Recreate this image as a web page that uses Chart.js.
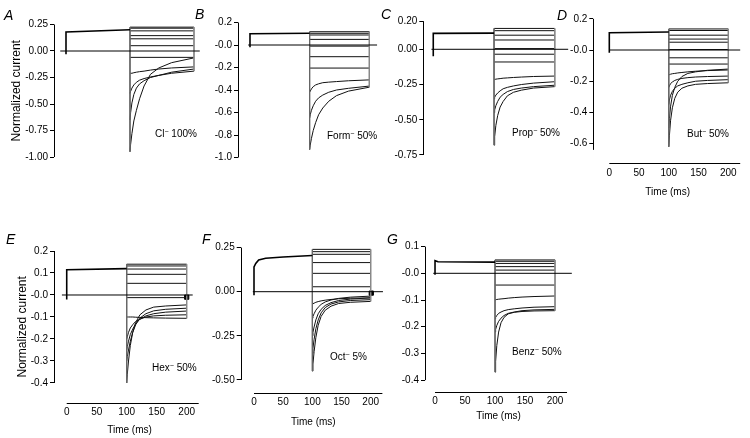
<!DOCTYPE html>
<html>
<head>
<meta charset="utf-8">
<script src="https://cdn.jsdelivr.net/npm/chart.js@4.4.0/dist/chart.umd.min.js"></script>
<style>
  body { margin: 0; background: #fff; }
  #wrap { position: relative; width: 750px; height: 438px; overflow: hidden; font-family: "Liberation Sans", Arial, sans-serif; color: #000; }
  #wrap canvas { position: absolute; left: 0; top: 0; }
  .tag { position: absolute; font-size: 14px; font-style: italic; line-height: 1; }
  .note { position: absolute; font-size: 10px; line-height: 1; white-space: nowrap; }
  .note sup { font-size: 7px; vertical-align: 3px; }
</style>
</head>
<body>
<div id="wrap">
  <canvas id="cA" width="750" height="438"></canvas>
  <canvas id="cB" width="750" height="438"></canvas>
  <canvas id="cC" width="750" height="438"></canvas>
  <canvas id="cD" width="750" height="438"></canvas>
  <canvas id="cE" width="750" height="438"></canvas>
  <canvas id="cF" width="750" height="438"></canvas>
  <canvas id="cG" width="750" height="438"></canvas>
</div>
<script>
// time points used for every test-pulse tail (ms)
const stepT = [100, 101, 103, 106, 110, 115, 122, 132, 145, 165, 200];
const timeTicks = [0, 50, 100, 150, 200];

// A: Cl- 100%
const preA_t = [0, 0, 100];
const preA_v = [-0.03, 0.18, 0.2];
const baseA_t = [-9, 209];
const flatA = [0.225, 0.215, 0.19, 0.145, 0.115, 0.05, -0.06];
const tailA1 = [-0.21, -0.21, -0.21, -0.205, -0.2, -0.195, -0.19, -0.18, -0.17, -0.16, -0.15];
const tailA2 = [-0.40, -0.38, -0.35, -0.32, -0.295, -0.275, -0.26, -0.245, -0.23, -0.21, -0.19];
const tailA3 = [-0.65, -0.58, -0.49, -0.41, -0.35, -0.31, -0.28, -0.25, -0.23, -0.2, -0.17];
const tailA4 = [-0.95, -0.88, -0.78, -0.66, -0.56, -0.45, -0.33, -0.22, -0.16, -0.11, -0.065];
const yTicksA = [0.25, 0, -0.25, -0.5, -0.75, -1];
const yLabelsA = ['0.25', '0.00', '-0.25', '-0.50', '-0.75', '-1.00'];

// B: Form- 50%
const preB_t = [0, 0, 100];
const preB_v = [-0.02, 0.1, 0.105];
const baseB_t = [-3, 213];
const flatB = [0.118, 0.104, 0.089, 0.05, -0.01, -0.104, -0.205];
const tailB1 = [-0.42, -0.41, -0.39, -0.37, -0.355, -0.345, -0.335, -0.33, -0.325, -0.318, -0.31];
const tailB2 = [-0.65, -0.62, -0.58, -0.54, -0.5, -0.47, -0.445, -0.42, -0.4, -0.385, -0.365];
const tailB3 = [-0.93, -0.89, -0.83, -0.76, -0.69, -0.62, -0.56, -0.5, -0.45, -0.41, -0.375];
const yTicksB = [0.2, 0, -0.2, -0.4, -0.6, -0.8, -1];
const yLabelsB = ['0.2', '-0.0', '-0.2', '-0.4', '-0.6', '-0.8', '-1.0'];

// C: Prop- 50%
const preC_t = [0, 0, 100];
const preC_v = [-0.05, 0.113, 0.115];
const baseC_t = [-3, 222];
const flatC = [0.148, 0.132, 0.1, 0.066, 0.005, -0.035, -0.09];
const tailC1 = [-0.215, -0.214, -0.212, -0.21, -0.208, -0.205, -0.203, -0.2, -0.197, -0.193, -0.19];
const tailC2 = [-0.35, -0.34, -0.325, -0.31, -0.295, -0.28, -0.27, -0.26, -0.25, -0.24, -0.23];
const tailC3 = [-0.45, -0.43, -0.4, -0.37, -0.34, -0.32, -0.3, -0.285, -0.275, -0.265, -0.255];
const tailC4 = [-0.68, -0.62, -0.54, -0.47, -0.41, -0.37, -0.33, -0.305, -0.29, -0.275, -0.265];
const yTicksC = [0.2, 0, -0.25, -0.5, -0.75];
const yLabelsC = ['0.20', '0.00', '-0.25', '-0.50', '-0.75'];

// D: But- 50%
const preD_t = [0, 0, 100];
const preD_v = [-0.017, 0.111, 0.115];
const baseD_t = [0, 220];
const flatD = [0.135, 0.125, 0.095, 0.07, 0.05, 0.003, -0.05, -0.09];
const tailD1 = [-0.16, -0.158, -0.155, -0.152, -0.15, -0.147, -0.144, -0.14, -0.136, -0.132, -0.128];
const tailD2 = [-0.24, -0.23, -0.215, -0.205, -0.195, -0.188, -0.182, -0.177, -0.173, -0.17, -0.167];
const tailD3 = [-0.35, -0.32, -0.29, -0.265, -0.245, -0.23, -0.22, -0.21, -0.2, -0.195, -0.19];
const tailD4 = [-0.62, -0.55, -0.45, -0.37, -0.31, -0.27, -0.245, -0.23, -0.22, -0.215, -0.21];
const tailD5 = [-0.5, -0.44, -0.36, -0.29, -0.24, -0.2, -0.17, -0.15, -0.14, -0.13, -0.122];
const yTicksD = [0.2, 0, -0.2, -0.4, -0.6];
const yLabelsD = ['0.2', '-0.0', '-0.2', '-0.4', '-0.6'];

// E: Hex- 50%
const preE_t = [0, 0, 100];
const preE_v = [-0.02, 0.115, 0.12];
const baseE_t = [-8, 210];
const flatE = [0.14, 0.132, 0.118, 0.094, 0.053, -0.012];
const tailE1 = [-0.1, -0.1, -0.1, -0.1, -0.1, -0.101, -0.102, -0.103, -0.104, -0.105, -0.106];
const tailE2 = [-0.2, -0.19, -0.17, -0.15, -0.135, -0.12, -0.11, -0.1, -0.095, -0.092, -0.09];
const tailE3 = [-0.25, -0.235, -0.21, -0.18, -0.155, -0.13, -0.11, -0.095, -0.085, -0.078, -0.073];
const tailE4 = [-0.3, -0.28, -0.25, -0.21, -0.17, -0.135, -0.105, -0.085, -0.072, -0.065, -0.06];
const tailE5 = [-0.4, -0.36, -0.3, -0.23, -0.17, -0.125, -0.09, -0.068, -0.055, -0.05, -0.045];
const markE = [200, -0.01];
const yTicksE = [0.2, 0.1, 0, -0.1, -0.2, -0.3, -0.4];
const yLabelsE = ['0.2', '0.1', '-0.0', '-0.1', '-0.2', '-0.3', '-0.4'];

// F: Oct- 5%
const preF_t = [0, 0, 3, 8, 20, 50, 100];
const preF_v = [-0.02, 0.14, 0.16, 0.18, 0.19, 0.197, 0.205];
const baseF_t = [-2, 221];
const flatF = [0.24, 0.227, 0.212, 0.165, 0.104, 0.028];
const tailF1 = [-0.07, -0.068, -0.065, -0.06, -0.056, -0.052, -0.048, -0.044, -0.04, -0.037, -0.035];
const tailF2 = [-0.15, -0.14, -0.125, -0.105, -0.088, -0.072, -0.058, -0.047, -0.038, -0.031, -0.025];
const tailF3 = [-0.25, -0.23, -0.2, -0.16, -0.125, -0.1, -0.078, -0.062, -0.05, -0.042, -0.035];
const tailF4 = [-0.35, -0.32, -0.27, -0.21, -0.16, -0.12, -0.09, -0.07, -0.058, -0.05, -0.045];
const tailF5 = [-0.45, -0.41, -0.34, -0.26, -0.19, -0.14, -0.105, -0.082, -0.067, -0.06, -0.055];
const markF = [201, -0.008];
const yTicksF = [0.25, 0, -0.25, -0.5];
const yLabelsF = ['0.25', '0.00', '-0.25', '-0.50'];

// G: Benz- 50%
const preG_t = [0, 0, 5, 100];
const preG_v = [-0.005, 0.047, 0.043, 0.042];
const baseG_t = [-3, 228];
const flatG = [0.05, 0.045, 0.037, 0.025, 0.012, -0.044];
const tailG1 = [-0.1, -0.099, -0.098, -0.097, -0.096, -0.095, -0.093, -0.091, -0.089, -0.087, -0.085];
const tailG2 = [-0.17, -0.165, -0.158, -0.15, -0.145, -0.14, -0.136, -0.133, -0.13, -0.127, -0.125];
const tailG3 = [-0.22, -0.21, -0.195, -0.18, -0.168, -0.158, -0.15, -0.145, -0.14, -0.137, -0.135];
const tailG4 = [-0.37, -0.33, -0.27, -0.22, -0.185, -0.165, -0.152, -0.146, -0.143, -0.141, -0.14];
const yTicksG = [0.1, 0, -0.1, -0.2, -0.3, -0.4];
const yLabelsG = ['0.1', '-0.0', '-0.1', '-0.2', '-0.3', '-0.4'];

const panelLetters = ['A', 'B', 'C', 'D', 'E', 'F', 'G'];
const anionNames = ['Cl', 'Form', 'Prop', 'But', 'Hex', 'Oct', 'Benz'];
const anionPct = ['100%', '50%', '50%', '50%', '50%', '5%', '50%'];

// layout of each panel on the page
const panels = [
  { id: 'cA', pre: [preA_t, preA_v], base: baseA_t, flat: flatA, tails: [tailA1, tailA2, tailA3, tailA4],
    yTicks: yTicksA, yLabels: yLabelsA, x: [-18.75, 217.2], y: [-1, 0.25], yEnd: -1,
    pad: { left: 9, right: 545, top: 24.5, bottom: 281 }, yW: 45, title: 'Normalized current', xAxis: false,
    tag: [4, 8], note: [155, 128] },
  { id: 'cB', pre: [preB_t, preB_v], base: baseB_t, flat: flatB, tails: [tailB1, tailB2, tailB3],
    yTicks: yTicksB, yLabels: yLabelsB, x: [-20.1, 226.3], y: [-1, 0.2], yEnd: -1,
    pad: { left: 198, right: 365, top: 22.5, bottom: 280.5 }, yW: 40, xAxis: false,
    tag: [195, 7], note: [327, 130] },
  { id: 'cC', pre: [preC_t, preC_v], base: baseC_t, flat: flatC, tails: [tailC1, tailC2, tailC3, tailC4],
    yTicks: yTicksC, yLabels: yLabelsC, x: [-16.4, 225], y: [-0.75, 0.2], yEnd: -0.75,
    pad: { left: 383.3, right: 180, top: 21.1, bottom: 283 }, yW: 40, xAxis: false,
    tag: [381, 7], note: [512, 127] },
  { id: 'cD', pre: [preD_t, preD_v], base: baseD_t, flat: flatD, tails: [tailD1, tailD2, tailD3, tailD4, tailD5],
    yTicks: yTicksD, yLabels: yLabelsD, x: [-26.9, 223], y: [-0.726, 0.2], yEnd: -0.64,
    pad: { left: 553.3, right: 8, top: 18.8, bottom: 239.3 }, yW: 40, xAxis: true, xH: 35.4,
    tag: [557, 8], note: [687, 128] },
  { id: 'cE', pre: [preE_t, preE_v], base: baseE_t, flat: flatE, tails: [tailE1, tailE2, tailE3, tailE4, tailE5],
    mark: markE, yTicks: yTicksE, yLabels: yLabelsE, x: [-21.2, 230.5], y: [-0.4896, 0.2], yEnd: -0.4,
    pad: { left: 15, right: 545, top: 251, bottom: 1.3 }, yW: 39, title: 'Normalized current', xAxis: true, xH: 34,
    tag: [6, 232], note: [152, 362] },
  { id: 'cF', pre: [preF_t, preF_v], base: baseF_t, flat: flatF, tails: [tailF1, tailF2, tailF3, tailF4, tailF5],
    mark: markF, yTicks: yTicksF, yLabels: yLabelsF, x: [-22.8, 226.2], y: [-0.5726, 0.25], yEnd: -0.5,
    pad: { left: 200.7, right: 364, top: 247.6, bottom: 9.3 }, yW: 40, xAxis: true, xH: 36,
    tag: [202, 232], note: [330, 351] },
  { id: 'cG', pre: [preG_t, preG_v], base: baseG_t, flat: flatG, tails: [tailG1, tailG2, tailG3, tailG4],
    yTicks: yTicksG, yLabels: yLabelsG, x: [-16.7, 228.3], y: [-0.4434, 0.1], yEnd: -0.4,
    pad: { left: 385, right: 178, top: 246.6, bottom: 15.3 }, yW: 40, xAxis: true, xH: 31,
    tag: [387, 232], note: [512, 346] }
];

// axis lines in the offset style of the figure
const axisLines = {
  id: 'axisLines',
  afterDraw(chart, args, o) {
    const { ctx, chartArea } = chart;
    const xs = chart.scales.x, ys = chart.scales.y;
    ctx.save();
    ctx.strokeStyle = '#000';
    ctx.lineWidth = 1;
    ctx.beginPath();
    const ax = Math.round(chartArea.left) + 0.5;
    ctx.moveTo(ax, ys.getPixelForValue(o.yTop));
    ctx.lineTo(ax, ys.getPixelForValue(o.yEnd));
    if (o.xAxis) {
      const by = Math.round(chartArea.bottom) + 0.5;
      ctx.moveTo(xs.getPixelForValue(0), by);
      ctx.lineTo(xs.getPixelForValue(220), by);
    }
    ctx.stroke();
    ctx.restore();
  }
};

function line(data, color, w) {
  return { data, borderColor: color, borderWidth: w, pointRadius: 0, tension: 0, fill: false };
}

function buildDatasets(p) {
  const ds = [];
  const starts = p.flat.concat(p.tails.map(a => a[0]));
  const ends = p.flat.concat(p.tails.map(a => a[a.length - 1]));
  const preEnd = p.pre[1][p.pre[1].length - 1];
  ds.push(line(p.base.map(t => ({ x: t, y: 0 })), '#000', 1));
  ds.push(line(p.pre[0].map((t, i) => ({ x: t, y: p.pre[1][i] })), '#000', 1.6));
  ds.push(line([{ x: 100, y: Math.max(preEnd, ...starts) }, { x: 100, y: Math.min(...starts) }], '#666', 1));
  ds.push(line([{ x: 200, y: Math.max(...ends) }, { x: 200, y: Math.min(...ends) }], '#888', 1));
  p.flat.forEach(v => ds.push(line([{ x: 100, y: v }, { x: 200, y: v }], '#111', 1)));
  p.tails.forEach(a => ds.push(line(a.map((v, i) => ({ x: stepT[i], y: v })), '#111', 1)));
  if (p.mark) {
    ds.push({ data: [{ x: p.mark[0], y: p.mark[1] }], showLine: false, pointStyle: 'rect',
      pointRadius: 3, backgroundColor: '#000', borderColor: '#000' });
  }
  return ds;
}

const wrap = document.getElementById('wrap');

panels.forEach((p, k) => {
  new Chart(document.getElementById(p.id), {
    type: 'line',
    data: { datasets: buildDatasets(p) },
    options: {
      responsive: false,
      animation: false,
      events: [],
      layout: { padding: p.pad },
      plugins: {
        legend: { display: false },
        tooltip: { enabled: false },
        axisLines: { yTop: p.y[1], yEnd: p.yEnd, xAxis: p.xAxis }
      },
      scales: {
        x: {
          type: 'linear',
          min: p.x[0],
          max: p.x[1],
          display: p.xAxis,
          afterBuildTicks: s => { s.ticks = timeTicks.map(v => ({ value: v })); },
          afterFit: s => { if (p.xAxis) s.height = p.xH; },
          grid: { display: false, drawTicks: false, tickLength: 0 },
          border: { display: false },
          ticks: { color: '#000', font: { size: 10 }, padding: 4, maxRotation: 0, autoSkip: false },
          title: { display: true, text: 'Time (ms)', color: '#000', font: { size: 10 }, padding: 0 }
        },
        y: {
          type: 'linear',
          min: p.y[0],
          max: p.y[1],
          afterBuildTicks: s => { s.ticks = p.yTicks.map(v => ({ value: v })); },
          afterFit: s => { s.width = p.yW; },
          grid: { drawOnChartArea: false, drawTicks: true, tickLength: 4, color: '#000', lineWidth: 1 },
          border: { display: false },
          ticks: { color: '#000', font: { size: 10 }, padding: 2, autoSkip: false, callback: (v, i) => p.yLabels[i] },
          title: { display: !!p.title, text: p.title || '', color: '#000', font: { size: 12 }, padding: 0 }
        }
      }
    },
    plugins: [axisLines]
  });

  const tag = document.createElement('div');
  tag.className = 'tag';
  tag.style.left = p.tag[0] + 'px';
  tag.style.top = p.tag[1] + 'px';
  tag.textContent = panelLetters[k];
  wrap.appendChild(tag);

  const note = document.createElement('div');
  note.className = 'note';
  note.style.left = p.note[0] + 'px';
  note.style.top = p.note[1] + 'px';
  note.innerHTML = anionNames[k] + '<sup>&minus;</sup> ' + anionPct[k];
  wrap.appendChild(note);
});
</script>
</body>
</html>
